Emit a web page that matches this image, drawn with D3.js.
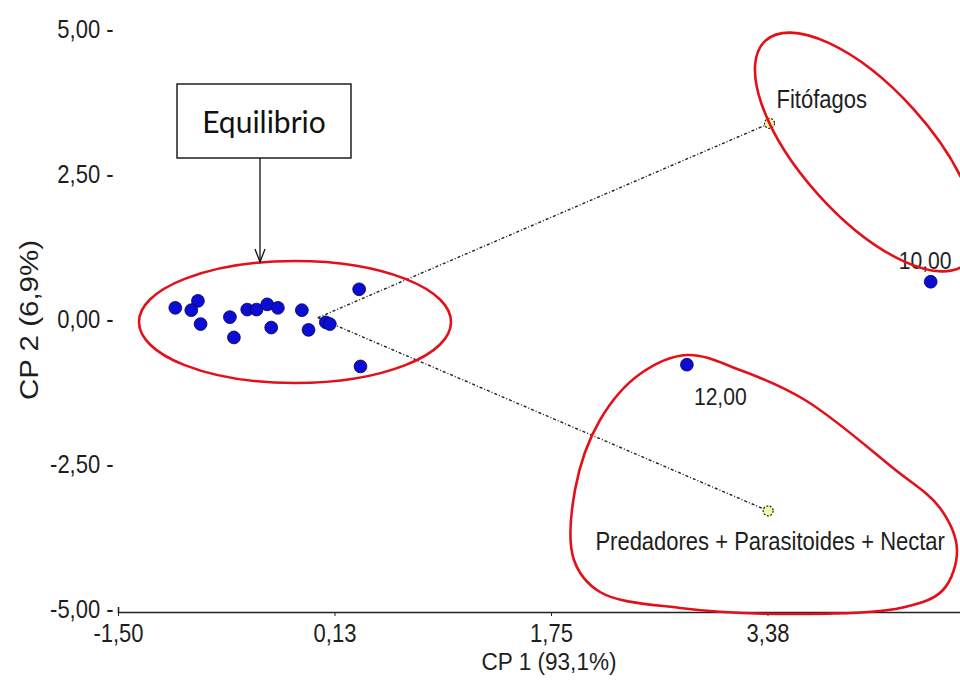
<!DOCTYPE html>
<html>
<head>
<meta charset="utf-8">
<script src="https://cdn.jsdelivr.net/npm/d3@7/dist/d3.min.js"></script>
<style>
  body { margin: 0; background: #fff; }
  svg { display: block; }
  .txt { font-family: "Liberation Sans", Arial, sans-serif; font-size: 25px; fill: #1e1e1e; }
</style>
</head>
<body>
<svg id="chart" width="960" height="684"></svg>
<script>
// site scores on the two principal components
const siteCP1 = [-1.07, -0.90, -0.95, -0.88, -0.66, -0.63, -0.53, -0.46, -0.38, -0.30,
                 -0.35, -0.12, -0.07, 0.06, 0.09, 0.31, 0.32, 2.77, 4.60];
const siteCP2 = [0.17, 0.29, 0.13, -0.11, 0.01, -0.34, 0.14, 0.14, 0.23, 0.17,
                 -0.17, 0.13, -0.21, -0.08, -0.11, 0.49, -0.84, -0.81, 0.62];
const siteLabels = ["", "", "", "", "", "", "", "", "", "",
                    "", "", "", "", "", "", "", "12,00", "10,00"];

// variable vectors
const varNames = ["Fitófagos", "Predadores + Parasitoides + Nectar"];
const varCP1 = [3.39, 3.38];
const varCP2 = [3.35, -3.33];

// axes
const xTicks = [-1.5, 0.125, 1.75, 3.375];
const xTickLabels = ["-1,50", "0,13", "1,75", "3,38"];
const yTicks = [-5, -2.5, 0, 2.5, 5];
const yTickLabels = ["-5,00", "-2,50", "0,00", "2,50", "5,00"];

const svg = d3.select('#chart');
const sx = 0.88; // the original text is a bit narrow

const x = d3.scaleLinear().domain([-1.5, 5]).range([118, 984]);
const y = d3.scaleLinear().domain([-5, 5]).range([607.7, 27.7]);

// x axis
const xAxis = svg.append('g')
  .attr('transform', 'translate(0,612)')
  .call(d3.axisBottom(x).tickValues(xTicks)
    .tickFormat((d, i) => xTickLabels[i])
    .tickSizeInner(4).tickSizeOuter(-5).tickPadding(8));
xAxis.select('.domain').attr('stroke', '#222').attr('stroke-width', 1.6);
xAxis.selectAll('.tick line').attr('stroke', '#222');
xAxis.selectAll('.tick text').attr('class', 'txt').attr('transform', `scale(${sx},1)`);

// y axis (labels only, dash after value)
const yAxis = svg.append('g')
  .attr('transform', 'translate(118,0)')
  .call(d3.axisLeft(y).tickValues(yTicks)
    .tickFormat((d, i) => yTickLabels[i] + ' -')
    .tickSize(0).tickPadding(5));
yAxis.select('.domain').remove();
yAxis.selectAll('.tick text').attr('class', 'txt').attr('dy', '0.38em')
  .attr('transform', `scale(${sx},1)`);

// axis titles
svg.append('text').attr('class', 'txt')
  .style('font-size', '24px')
  .attr('text-anchor', 'middle')
  .attr('transform', 'translate(549,670) scale(0.94,1)')
  .text('CP 1 (93,1%)');

svg.append('text').attr('class', 'txt')
  .attr('text-anchor', 'middle')
  .attr('transform', 'translate(38,320) rotate(-90) scale(1.18,1)')
  .text('CP 2 (6,9%)');

// vectors from origin
const vecs = varNames.map((n, i) => ({ name: n, cx: varCP1[i], cy: varCP2[i] }));
const vecLabelPos = [{ dx: 7, dy: -15, anchor: 'start' }, { dx: 2, dy: 39, anchor: 'middle' }];

svg.selectAll('.vec').data(vecs).enter().append('line')
  .attr('class', 'vec')
  .attr('x1', x(0)).attr('y1', y(0))
  .attr('x2', d => x(d.cx)).attr('y2', d => y(d.cy))
  .attr('stroke', '#222').attr('stroke-width', 1.4)
  .attr('stroke-dasharray', '3,2,1,2');

svg.selectAll('.vecEnd').data(vecs).enter().append('circle')
  .attr('class', 'vecEnd')
  .attr('cx', d => x(d.cx)).attr('cy', d => y(d.cy)).attr('r', 5)
  .attr('fill', '#f6f7a6').attr('stroke', '#222').attr('stroke-width', 1.2)
  .attr('stroke-dasharray', '2,1.5');

svg.selectAll('.vecLbl').data(vecs).enter().append('text')
  .attr('class', 'txt')
  .attr('text-anchor', (d, i) => vecLabelPos[i].anchor)
  .attr('transform', (d, i) => `translate(${x(d.cx) + vecLabelPos[i].dx},${y(d.cy) + vecLabelPos[i].dy}) scale(${sx},1)`)
  .text(d => d.name);

// sites
const sites = siteCP1.map((v, i) => ({ cx: v, cy: siteCP2[i], label: siteLabels[i] }));
svg.selectAll('.site').data(sites).enter().append('circle')
  .attr('class', 'site')
  .attr('cx', d => x(d.cx)).attr('cy', d => y(d.cy)).attr('r', 6.4)
  .attr('fill', '#0c0cd2').attr('stroke', '#00005a').attr('stroke-width', 0.8);

const siteLabelPos = { '12,00': { dx: 7, dy: 40 }, '10,00': { dx: -32, dy: -13 } };
svg.selectAll('.siteLbl').data(sites.filter(d => d.label)).enter().append('text')
  .attr('class', 'txt').style('font-size', '24px')
  .attr('transform', d => `translate(${x(d.cx) + siteLabelPos[d.label].dx},${y(d.cy) + siteLabelPos[d.label].dy}) scale(${sx},1)`)
  .text(d => d.label);

// red hand-drawn highlights
const red = '#e3101a';
svg.append('ellipse')
  .attr('cx', 295).attr('cy', 322).attr('rx', 156).attr('ry', 61)
  .attr('fill', 'none').attr('stroke', red).attr('stroke-width', 2.6);

svg.append('ellipse')
  .attr('cx', 0).attr('cy', 0).attr('rx', 150).attr('ry', 64)
  .attr('transform', 'translate(866,152) rotate(48)')
  .attr('fill', 'none').attr('stroke', red).attr('stroke-width', 2.6);

const blob = [[687, 355], [740, 370], [805, 400], [893, 468], [940, 508], [957, 550],
              [943, 590], [905, 607], [800, 614], [680, 608], [600, 592], [574, 560],
              [575, 490], [600, 420], [640, 374]];
svg.append('path')
  .attr('d', d3.line().curve(d3.curveCatmullRomClosed)(blob))
  .attr('fill', 'none').attr('stroke', red).attr('stroke-width', 2.6);

// "Equilibrio" call-out
svg.append('rect')
  .attr('x', 177).attr('y', 84).attr('width', 174).attr('height', 74)
  .attr('fill', '#fff').attr('stroke', '#111').attr('stroke-width', 1.4);
svg.append('text')
  .attr('x', 264).attr('y', 133).attr('text-anchor', 'middle')
  .style('font-family', 'Lato, "Open Sans", sans-serif').style('font-size', '30px')
  .attr('fill', '#111')
  .text('Equilibrio');
svg.append('line')
  .attr('x1', 260).attr('y1', 158).attr('x2', 260).attr('y2', 261)
  .attr('stroke', '#111').attr('stroke-width', 1.3);
svg.append('path')
  .attr('d', 'M255,249L260,262L265,249')
  .attr('fill', 'none').attr('stroke', '#111').attr('stroke-width', 1.3);
</script>
</body>
</html>
